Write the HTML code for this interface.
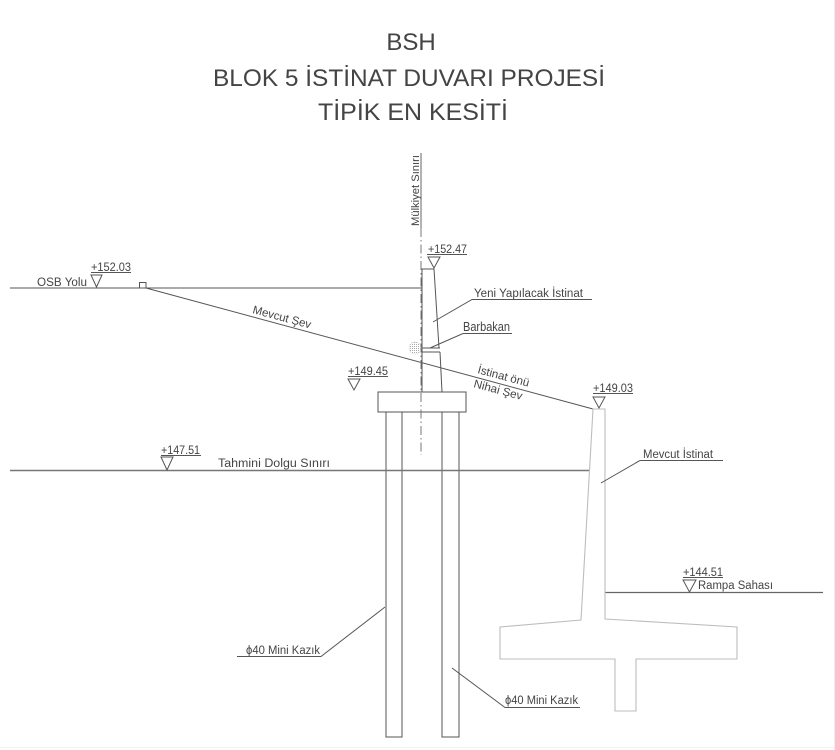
<!DOCTYPE html>
<html>
<head>
<meta charset="utf-8">
<style>
  html,body{margin:0;padding:0;background:#fff;}
  body{width:835px;height:750px;overflow:hidden;}
  svg{display:block;}
  text{font-family:"Liberation Sans", Arial, sans-serif;fill:#444;}
</style>
</head>
<body>
<svg width="835" height="750" viewBox="0 0 835 750" xmlns="http://www.w3.org/2000/svg">
  <defs>
    <pattern id="dots" width="2" height="2" patternUnits="userSpaceOnUse">
      <rect x="0" y="0" width="1" height="1" fill="#aaa"/>
    </pattern>
  </defs>
  <rect x="0" y="0" width="835" height="750" fill="#fff"/>
  <line x1="834.5" y1="0" x2="834.5" y2="750" stroke="#eee" stroke-width="1"/>
  <line x1="0" y1="747.5" x2="835" y2="747.5" stroke="#f2f2f2" stroke-width="1"/>

  <!-- Title -->
  <text x="411" y="50" font-size="24" text-anchor="middle">BSH</text>
  <text x="409" y="86" font-size="24" text-anchor="middle" textLength="392" lengthAdjust="spacingAndGlyphs">BLOK 5 İSTİNAT DUVARI PROJESİ</text>
  <text x="413" y="120" font-size="24" text-anchor="middle" textLength="190" lengthAdjust="spacingAndGlyphs">TİPİK EN KESİTİ</text>

  <g stroke="#555" stroke-width="1" fill="none">
    <!-- OSB ground line -->
    <line x1="10" y1="288" x2="422" y2="288"/>
    <!-- small square -->
    <rect x="139.5" y="282.5" width="6.5" height="5.5"/>
    <!-- Mevcut sev slope -->
    <line x1="146" y1="288" x2="593" y2="409"/>

    <!-- new wall stem -->
    <polyline points="422,392 422,269 434,269 439,348"/>
    <line x1="440" y1="352" x2="442" y2="392"/>
    <!-- weep hole -->
    <line x1="422" y1="348" x2="440" y2="348"/>
    <line x1="422" y1="352" x2="440" y2="352"/>
    <!-- footing -->
    <rect x="378" y="392" width="88" height="20"/>
    <!-- piles -->
    <polyline points="386,412 386,737 402,737 402,412"/>
    <polyline points="442,412 442,737 459,737 459,412"/>
  </g>

  <!-- Tahmini dolgu line -->
  <line x1="10" y1="470.5" x2="590" y2="470.5" stroke="#777" stroke-width="1.4"/>
  <!-- Rampa line -->
  <line x1="605" y1="592.5" x2="823" y2="592.5" stroke="#666" stroke-width="1.2"/>

  <!-- centerline / Mülkiyet sınırı -->
  <line x1="421" y1="153" x2="421" y2="228" stroke="#666" stroke-width="1"/>
  <line x1="421" y1="228" x2="421" y2="455" stroke="#777" stroke-width="1" stroke-dasharray="9 3 1.5 3"/>
  <text transform="translate(419,226) rotate(-90)" font-size="11" textLength="71" lengthAdjust="spacingAndGlyphs">Mülkiyet Sınırı</text>

  <!-- barbakan hatched circle -->
  <circle cx="415" cy="348" r="6" fill="url(#dots)" stroke="#ccc" stroke-width="0.8" stroke-dasharray="1 1"/>

  <!-- Existing wall -->
  <polygon points="593,409 605,409 605,619 737,627 737,659 636,659 636,711 615,711 615,659 500,659 500,627 581,620" fill="none" stroke="#bdbdbd" stroke-width="1.1"/>

  <!-- Elevation markers -->
  <g stroke="#555" stroke-width="1" fill="none">
    <line x1="91" y1="272.5" x2="131" y2="272.5"/>
    <polygon points="91,275 102,275 96.5,287"/>
    <line x1="427" y1="254.5" x2="467" y2="254.5"/>
    <polygon points="428,257 440,257 434,268"/>
    <line x1="348" y1="376.5" x2="388" y2="376.5"/>
    <polygon points="348,379 360,379 354,390"/>
    <line x1="593" y1="393.5" x2="633" y2="393.5"/>
    <polygon points="593,397 605,397 599,408"/>
    <line x1="161" y1="455.5" x2="201" y2="455.5"/>
    <polygon points="161,457 173,457 167,470"/>
    <line x1="683" y1="577.5" x2="723" y2="577.5"/>
    <polygon points="683,580 696,580 689.5,592"/>
  </g>
  <g font-size="11.5">
    <text x="91" y="271" textLength="40" lengthAdjust="spacingAndGlyphs">+152.03</text>
    <text x="428" y="253" textLength="39" lengthAdjust="spacingAndGlyphs">+152.47</text>
    <text x="348" y="375" textLength="40" lengthAdjust="spacingAndGlyphs">+149.45</text>
    <text x="593" y="392" textLength="40" lengthAdjust="spacingAndGlyphs">+149.03</text>
    <text x="161" y="454" textLength="39" lengthAdjust="spacingAndGlyphs">+147.51</text>
    <text x="683" y="576" textLength="40" lengthAdjust="spacingAndGlyphs">+144.51</text>

    <text x="37" y="286" textLength="50" lengthAdjust="spacingAndGlyphs">OSB Yolu</text>
    <text x="698" y="589" textLength="75" lengthAdjust="spacingAndGlyphs">Rampa Sahası</text>
    <text x="218" y="467" textLength="112" lengthAdjust="spacingAndGlyphs">Tahmini Dolgu Sınırı</text>

    <text transform="translate(252,313) rotate(15)" textLength="60" lengthAdjust="spacingAndGlyphs">Mevcut Şev</text>
    <text transform="translate(477,373) rotate(15)" textLength="53" lengthAdjust="spacingAndGlyphs">İstinat önü</text>
    <text transform="translate(473,387) rotate(15)" textLength="50" lengthAdjust="spacingAndGlyphs">Nihai Şev</text>

    <text x="474" y="297" textLength="109" lengthAdjust="spacingAndGlyphs">Yeni Yapılacak İstinat</text>
    <text x="643" y="458" textLength="70" lengthAdjust="spacingAndGlyphs">Mevcut İstinat</text>
    <text x="246" y="654" textLength="74" lengthAdjust="spacingAndGlyphs">ϕ40 Mini Kazık</text>
    <text x="505" y="704" textLength="73" lengthAdjust="spacingAndGlyphs">ϕ40 Mini Kazık</text>
  </g>
  <text x="463" y="331" font-size="12.5" textLength="47" lengthAdjust="spacingAndGlyphs">Barbakan</text>

  <!-- Leaders -->
  <g stroke="#555" stroke-width="1" fill="none">
    <polyline points="433,322 472,299.5 592,299.5"/>
    <polyline points="430,348 463,333.5 512,333.5"/>
    <polyline points="601,483 640,460.5 723,460.5"/>
    <polyline points="385,607 321,656.5 237,656.5"/>
    <polyline points="452,668 505,707.5 580,707.5"/>
  </g>
</svg>
</body>
</html>
